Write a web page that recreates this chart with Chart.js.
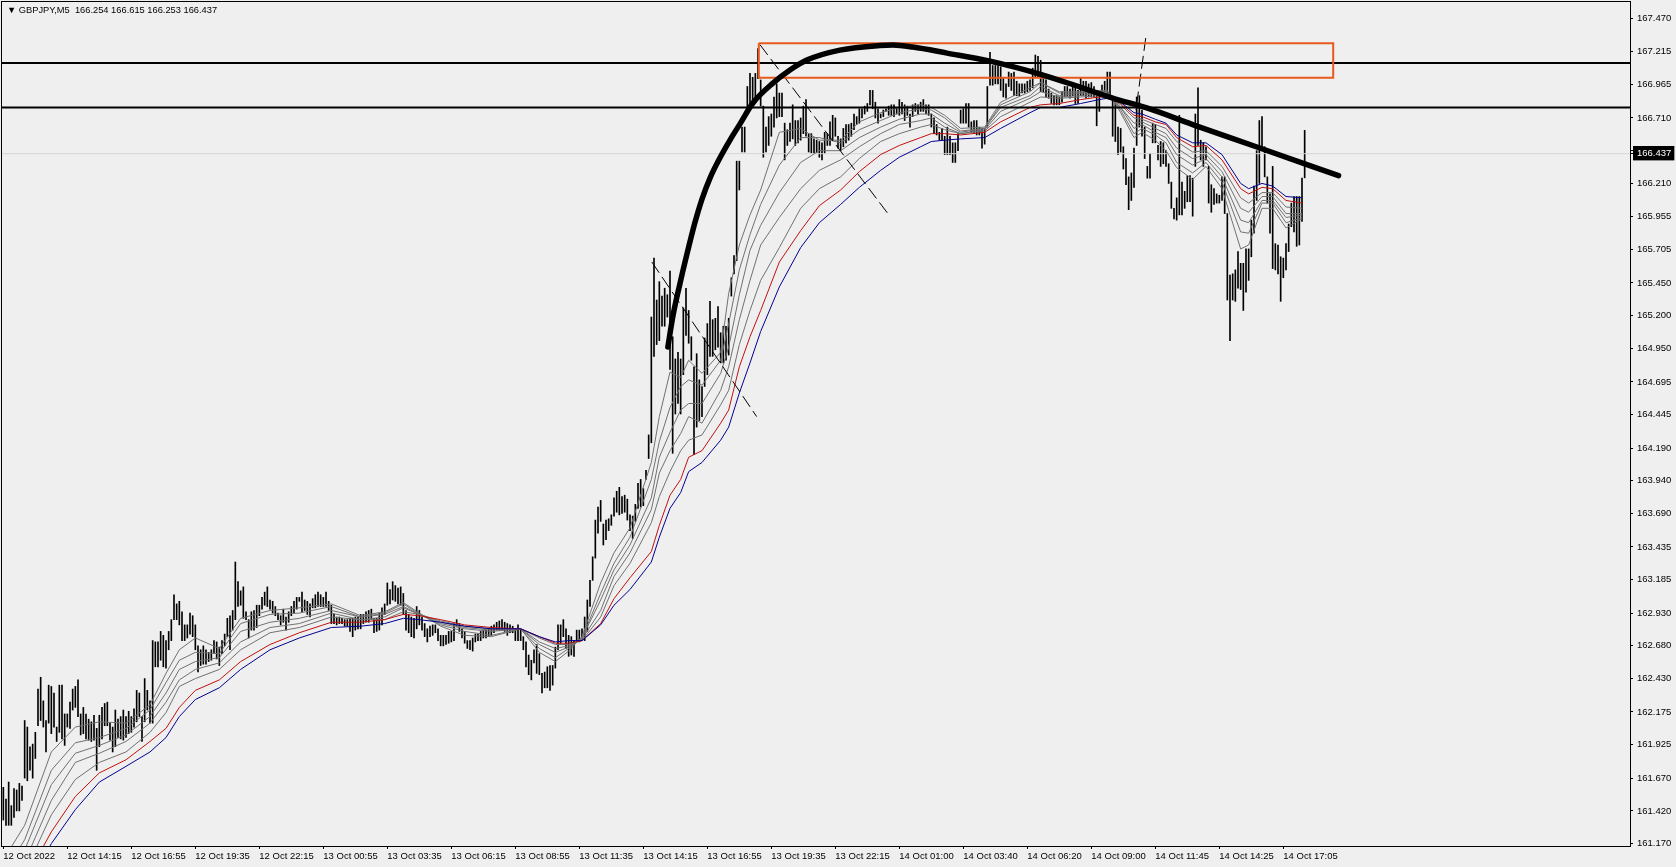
<!DOCTYPE html>
<html>
<head>
<meta charset="utf-8">
<title>GBPJPY,M5</title>
<script src="https://cdn.jsdelivr.net/npm/chart.js@4/dist/chart.umd.min.js"></script>
<style>
  html,body{margin:0;padding:0;background:#efefef;overflow:hidden}
  #hdr{position:absolute;left:7px;top:5px;font:9.3px "Liberation Sans",sans-serif;color:#000;white-space:pre}
  canvas{display:block}
</style>
</head>
<body>
<canvas id="chart" width="1676" height="867"></canvas>
<div id="hdr">▼ GBPJPY,M5  166.254 166.615 166.253 166.437</div>
<script>
// bar highs / lows, one entry per drawn bar
const highs = [
161.60,161.51,161.64,161.46,161.59,161.58,161.63,161.61,162.11,162.06,
161.91,161.93,162.02,162.35,162.44,162.26,162.11,162.38,162.37,162.32,
162.06,162.38,162.38,162.16,162.16,162.25,162.35,162.37,162.42,162.16,
162.21,162.16,162.12,162.10,162.15,162.05,162.15,162.21,162.24,162.25,
162.09,162.06,162.19,162.12,162.14,162.19,162.14,162.18,162.14,162.20,
162.34,162.32,162.14,162.43,162.34,162.26,162.72,162.71,162.71,162.79,
162.76,162.72,162.79,162.88,163.07,163.00,163.02,162.94,162.84,162.84,
162.93,162.91,162.84,162.68,162.65,162.68,162.65,162.63,162.65,162.72,
162.71,162.67,162.72,162.77,162.89,162.91,162.95,163.32,163.17,163.10,
163.13,162.94,162.88,162.94,162.95,162.99,162.99,163.05,163.09,163.13,
163.03,163.02,162.98,162.93,162.91,162.96,162.90,162.94,162.98,163.02,
163.05,163.05,163.09,163.03,163.02,163.00,163.04,163.07,163.09,163.07,
163.05,163.09,163.02,162.99,162.92,162.90,162.90,162.89,162.88,162.88,
162.89,162.89,162.90,162.90,162.92,162.92,162.94,162.95,162.96,162.89,
162.89,162.93,162.97,163.00,163.16,163.11,163.17,163.14,163.12,163.13,
163.08,162.95,162.92,162.90,162.89,162.98,162.95,162.90,162.85,162.81,
162.83,162.84,162.84,162.81,162.76,162.76,162.76,162.79,162.79,162.85,
162.88,162.85,162.81,162.79,162.72,162.72,162.74,162.77,162.77,162.79,
162.80,162.80,162.81,162.83,162.84,162.86,162.87,162.88,162.86,162.85,
162.84,162.83,162.81,162.84,162.81,162.75,162.71,162.61,162.57,162.65,
162.69,162.62,162.47,162.48,162.52,162.53,162.53,162.67,162.84,162.84,
162.88,162.81,162.76,162.75,162.72,162.80,162.80,162.81,162.90,163.03,
163.18,163.36,163.64,163.74,163.79,163.61,163.64,163.65,163.68,163.81,
163.86,163.89,163.82,163.83,163.80,163.68,163.67,163.76,163.92,163.95,
163.88,164.02,164.29,165.19,165.64,165.32,165.46,165.35,165.41,165.36,
165.54,165.04,164.87,164.92,164.87,165.26,165.41,165.24,165.04,164.81,
164.91,164.71,164.66,165.03,165.14,165.31,165.17,165.18,165.27,165.07,
165.12,165.12,165.18,165.49,165.66,166.38,166.38,166.64,166.64,166.95,
167.05,167.02,167.05,167.24,167.00,166.80,166.64,166.72,166.74,166.87,
166.97,166.90,166.90,166.67,166.62,166.67,166.81,166.69,166.69,166.71,
166.80,166.85,166.59,166.59,166.55,166.54,166.53,166.52,166.60,166.59,
166.68,166.73,166.71,166.57,166.55,166.63,166.66,166.66,166.67,166.74,
166.72,166.78,166.78,166.80,166.82,166.92,166.92,166.83,166.78,166.74,
166.77,166.78,166.80,166.81,166.81,166.78,166.85,166.83,166.81,166.80,
166.74,166.81,166.82,166.81,166.83,166.85,166.81,166.81,166.74,166.71,
166.66,166.60,166.63,166.57,166.64,166.57,166.52,166.52,166.59,166.77,
166.78,166.82,166.82,166.68,166.69,166.69,166.64,166.63,166.63,166.95,
167.21,167.11,167.11,167.11,167.10,167.01,166.97,167.06,167.05,167.06,
166.99,166.97,166.97,166.97,166.99,167.00,167.09,167.19,167.18,167.15,
167.01,167.00,166.93,166.90,166.88,166.88,166.87,166.91,166.95,166.95,
166.93,166.96,166.97,166.92,167.02,166.99,166.99,166.97,166.98,166.95,
166.92,166.88,166.96,166.99,167.06,167.06,166.87,166.85,166.64,166.63,
166.49,166.40,166.26,166.29,166.48,166.87,166.88,166.77,166.64,166.34,
166.44,166.67,166.66,166.50,166.53,166.52,166.46,166.36,166.22,166.02,
166.10,166.73,166.22,166.15,166.27,166.27,166.25,166.74,166.94,166.54,
166.52,166.49,166.34,166.20,166.17,166.13,166.12,166.26,166.26,165.98,
165.51,165.52,165.55,165.69,165.60,165.60,165.71,165.71,165.93,166.19,
166.46,166.69,166.72,166.49,166.26,166.13,166.34,165.75,165.74,165.65,
165.64,165.75,165.90,166.06,166.11,166.11,166.11,166.25,166.615
];
const lows = [
161.35,161.31,161.31,161.31,161.37,161.42,161.42,161.50,161.67,161.65,
161.73,161.67,161.82,162.07,162.11,162.06,161.87,162.09,162.01,162.06,
161.95,162.02,161.97,161.92,162.06,162.05,162.19,162.21,162.14,162.00,
162.01,161.97,161.96,161.95,161.96,161.73,161.91,161.97,162.07,162.07,
161.96,161.87,161.91,161.98,161.97,161.96,161.98,162.01,162.02,162.06,
162.10,162.14,161.95,162.10,162.19,162.09,162.09,162.52,162.52,162.57,
162.52,162.51,162.65,162.72,162.88,162.88,162.84,162.72,162.72,162.74,
162.77,162.75,162.65,162.48,162.53,162.54,162.54,162.56,162.57,162.62,
162.58,162.53,162.62,162.68,162.75,162.65,162.80,162.88,162.98,162.99,
162.89,162.88,162.74,162.80,162.80,162.82,162.91,162.96,162.99,162.98,
162.96,162.93,162.91,162.88,162.84,162.86,162.80,162.86,162.91,162.93,
162.96,163.02,162.94,162.95,162.92,162.90,162.97,162.97,162.98,162.98,
162.98,162.98,162.95,162.85,162.85,162.84,162.85,162.85,162.83,162.83,
162.79,162.75,162.80,162.81,162.81,162.85,162.86,162.86,162.88,162.78,
162.79,162.80,162.84,162.92,162.99,163.00,163.03,163.02,163.00,162.99,
162.92,162.80,162.78,162.75,162.74,162.81,162.84,162.80,162.75,162.71,
162.75,162.76,162.78,162.72,162.68,162.68,162.69,162.70,162.71,162.72,
162.83,162.79,162.74,162.70,162.66,162.65,162.64,162.71,162.72,162.72,
162.74,162.74,162.75,162.76,162.78,162.80,162.80,162.80,162.79,162.76,
162.78,162.78,162.72,162.72,162.72,162.65,162.52,162.46,162.42,162.55,
162.47,162.46,162.32,162.36,162.36,162.34,162.38,162.51,162.65,162.70,
162.75,162.66,162.60,162.61,162.60,162.71,162.71,162.72,162.72,162.79,
162.98,163.18,163.35,163.54,163.63,163.45,163.49,163.56,163.60,163.67,
163.70,163.68,163.69,163.70,163.64,163.56,163.50,163.63,163.73,163.74,
163.75,163.95,164.11,164.23,164.89,164.98,165.01,165.12,165.12,165.19,
164.79,164.15,164.45,164.53,164.45,164.75,165.05,164.99,164.86,164.14,
164.35,164.40,164.43,164.66,164.75,164.89,164.89,164.94,164.96,164.84,
164.84,164.86,164.90,165.35,165.52,165.62,166.16,166.45,166.45,166.74,
166.80,166.81,166.86,167.01,166.80,166.41,166.45,166.50,166.57,166.64,
166.71,166.72,166.72,166.39,166.50,166.53,166.55,166.50,166.52,166.54,
166.59,166.57,166.45,166.44,166.44,166.44,166.41,166.39,166.44,166.50,
166.50,166.54,166.57,166.48,166.46,166.49,166.52,166.54,166.57,166.62,
166.66,166.67,166.71,166.74,166.76,166.81,166.78,166.71,166.67,166.71,
166.72,166.76,166.73,166.73,166.72,166.74,166.73,166.74,166.69,166.73,
166.64,166.72,166.76,166.74,166.76,166.76,166.74,166.73,166.64,166.59,
166.58,166.54,166.54,166.43,166.43,166.43,166.37,166.37,166.46,166.67,
166.67,166.67,166.64,166.60,166.59,166.58,166.58,166.48,166.51,166.64,
166.96,166.96,166.97,166.97,166.92,166.87,166.86,166.95,166.92,166.88,
166.88,166.88,166.90,166.90,166.91,166.92,166.94,167.02,167.02,166.91,
166.91,166.87,166.86,166.82,166.81,166.81,166.81,166.83,166.87,166.88,
166.86,166.88,166.82,166.82,166.88,166.88,166.86,166.87,166.87,166.87,
166.65,166.76,166.88,166.91,166.90,166.87,166.57,166.53,166.43,166.45,
166.32,166.20,166.01,166.08,166.18,166.50,166.64,166.57,166.40,166.25,
166.25,166.52,166.52,166.39,166.34,166.36,166.34,166.21,166.02,165.94,
165.93,165.97,165.97,166.02,166.07,166.07,165.96,166.34,166.50,166.39,
166.34,166.39,166.06,165.99,166.05,166.06,166.06,166.08,165.98,165.32,
165.01,165.32,165.31,165.41,165.40,165.24,165.38,165.47,165.65,165.83,
166.08,166.21,166.48,166.26,166.06,165.83,165.56,165.55,165.52,165.31,
165.49,165.55,165.69,165.88,165.84,165.73,165.74,165.92,166.253
];

// moving average ribbon, read at these bars
const ribbonAt = [1,8,18,27,36,46,55,61,66,72,81,89,100,111,123,134,143,150,156,164,173,183,194,201,207,212,217,224,229,235,243,246,250,254,257,262,269,272,276,280,284,291,299,306,314,321,329,336,344,348,353,359,368,374,385,389,396,404,411,414,419,424,427,432,436,440,446,451,457,464,467,472,476,481,487];
const maBlue = [160.28,160.80,161.17,161.43,161.64,161.76,161.87,161.98,162.14,162.27,162.36,162.50,162.65,162.74,162.82,162.83,162.85,162.89,162.88,162.86,162.83,162.81,162.81,162.75,162.71,162.72,162.72,162.84,162.99,163.11,163.32,163.51,163.73,163.85,164.01,164.08,164.25,164.35,164.61,164.84,165.08,165.42,165.72,165.91,166.05,166.18,166.31,166.41,166.49,166.53,166.54,166.55,166.56,166.63,166.75,166.79,166.79,166.82,166.85,166.86,166.83,166.75,166.74,166.70,166.67,166.58,166.52,166.52,166.43,166.21,166.17,166.21,166.19,166.11,166.10];
const maRed = [160.51,160.89,161.26,161.53,161.71,161.81,161.95,162.05,162.21,162.34,162.42,162.56,162.69,162.78,162.86,162.86,162.88,162.92,162.91,162.88,162.84,162.82,162.81,162.75,162.70,162.70,162.72,162.85,163.04,163.20,163.40,163.60,163.83,163.95,164.12,164.17,164.38,164.48,164.81,165.04,165.24,165.61,165.85,166.04,166.16,166.30,166.43,166.50,166.56,166.59,166.59,166.58,166.60,166.68,166.79,166.81,166.82,166.85,166.87,166.87,166.82,166.73,166.72,166.68,166.66,166.56,166.49,166.50,166.39,166.17,166.13,166.18,166.17,166.08,166.06];
const maGrey1 = [160.66,160.95,161.39,161.66,161.79,161.87,162.02,162.17,162.37,162.43,162.50,162.65,162.78,162.82,162.90,162.88,162.88,162.94,162.92,162.87,162.83,162.81,162.81,162.74,162.69,162.69,162.72,162.90,163.14,163.31,163.62,163.82,164.01,164.17,164.25,164.29,164.52,164.63,164.98,165.24,165.47,165.72,166.02,166.17,166.26,166.40,166.53,166.59,166.64,166.66,166.62,166.59,166.61,166.72,166.83,166.87,166.86,166.87,166.88,166.87,166.81,166.71,166.70,166.66,166.63,166.53,166.45,166.46,166.34,166.10,166.06,166.14,166.14,166.03,166.02];
const maGrey2 = [160.74,161.03,161.50,161.79,161.86,161.95,162.09,162.25,162.42,162.50,162.55,162.71,162.82,162.85,162.93,162.88,162.90,162.97,162.92,162.86,162.82,162.80,162.81,162.71,162.66,162.68,162.73,162.95,163.21,163.39,163.72,164.00,164.17,164.30,164.43,164.38,164.63,164.81,165.17,165.47,165.74,165.95,166.17,166.31,166.39,166.49,166.59,166.66,166.69,166.71,166.64,166.59,166.62,166.76,166.86,166.91,166.87,166.88,166.90,166.88,166.79,166.67,166.68,166.63,166.59,166.48,166.40,166.43,166.30,166.02,165.99,166.11,166.11,165.98,165.98];
const maGrey3 = [160.89,161.12,161.62,161.86,161.92,162.00,162.14,162.32,162.50,162.56,162.59,162.79,162.86,162.89,162.95,162.90,162.92,162.98,162.92,162.85,162.81,162.79,162.81,162.69,162.63,162.67,162.74,163.03,163.26,163.45,163.81,164.12,164.31,164.48,164.53,164.53,164.76,164.96,165.36,165.70,165.89,166.14,166.37,166.46,166.46,166.56,166.64,166.70,166.74,166.74,166.67,166.60,166.63,166.79,166.88,166.95,166.88,166.90,166.90,166.90,166.79,166.63,166.66,166.60,166.56,166.43,166.35,166.40,166.26,165.93,165.91,166.08,166.08,165.95,165.97];
const maGrey4 = [160.97,161.20,161.73,161.94,161.98,162.05,162.19,162.40,162.57,162.63,162.62,162.85,162.92,162.93,162.98,162.90,162.93,163.00,162.92,162.84,162.79,162.76,162.81,162.66,162.59,162.66,162.74,163.08,163.31,163.51,163.95,164.24,164.50,164.66,164.71,164.67,164.86,165.14,165.55,165.82,166.05,166.35,166.56,166.56,166.52,166.62,166.69,166.75,166.78,166.77,166.71,166.61,166.63,166.81,166.91,166.98,166.90,166.90,166.91,166.91,166.77,166.59,166.63,166.58,166.52,166.37,166.29,166.37,166.22,165.84,165.83,166.06,166.06,165.91,165.95];
const maGrey5 = [161.08,161.31,161.87,162.06,162.10,162.09,162.23,162.47,162.65,162.74,162.66,162.89,162.95,162.97,163.00,162.91,162.94,163.01,162.93,162.83,162.76,162.75,162.81,162.63,162.56,162.64,162.75,163.16,163.39,163.58,164.08,164.43,164.77,164.73,164.86,164.76,164.92,165.37,165.74,165.97,166.16,166.60,166.63,166.54,166.54,166.68,166.75,166.79,166.81,166.79,166.73,166.63,166.64,166.83,166.94,166.98,166.91,166.91,166.92,166.92,166.75,166.56,166.60,166.54,166.46,166.33,166.24,166.34,166.17,165.71,165.74,166.02,166.02,165.87,165.94];

// drawn objects
const levels = [167.13,166.79];
const lastPrice = 166.437;
const boxAt = [283.3,498.7,498.7,283.3,283.3];
const boxPrices = [167.28,167.28,167.017,167.017,167.28];
const arcAt = [249.2,251.1,253.7,256,259.4,262,265,268.7,272.5,276.2,281.1,288.6,295,301.3,313.7,328.7,333.6,341,353.9,370,388.7,403.7,416,428.8,447.6,470.1,500.7];
const arcPrices = [164.961,165.198,165.442,165.641,165.915,166.091,166.251,166.404,166.541,166.663,166.824,166.976,167.076,167.152,167.228,167.263,167.266,167.251,167.205,167.144,167.045,166.946,166.862,166.786,166.648,166.488,166.269];
const dashA = [[243.2,165.61],[282.5,164.43]];
const dashB = [[283.7,167.27],[331.7,165.98]];
const dashC = [[428.4,167.32],[424.7,166.77]];

// axes
const xLabels = ["12 Oct 2022","12 Oct 14:15","12 Oct 16:55","12 Oct 19:35","12 Oct 22:15","13 Oct 00:55","13 Oct 03:35","13 Oct 06:15","13 Oct 08:55","13 Oct 11:35","13 Oct 14:15","13 Oct 16:55","13 Oct 19:35","13 Oct 22:15","14 Oct 01:00","14 Oct 03:40","14 Oct 06:20","14 Oct 09:00","14 Oct 11:45","14 Oct 14:25","14 Oct 17:05"];
const yTicks = [167.47,167.215,166.965,166.71,166.46,166.21,165.955,165.705,165.45,165.2,164.95,164.695,164.445,164.19,163.94,163.69,163.435,163.185,162.93,162.68,162.43,162.175,161.925,161.67,161.42,161.17];

const FONT = {family:'"Liberation Sans",sans-serif', size:9.5};

function pts(xs,ys){ return xs.map((x,i)=>({x:x,y:ys[i]})); }
function line(data,color,width,order,extra){
  return Object.assign({type:"line",data:data,borderColor:color,borderWidth:width,pointRadius:0,tension:0,order:order},extra||{});
}

const ribbon = [
  [maGrey5,"#707070"],[maGrey4,"#707070"],[maGrey3,"#707070"],[maGrey2,"#707070"],[maGrey1,"#707070"],
  [maRed,"#c01010"],[maBlue,"#000090"]
].map(([vals,col],i)=>line(pts(ribbonAt,vals),col,1,6-i*0.1));

const frame = {
  id:"frame",
  afterDraw(c){
    const a=c.chartArea, g=c.ctx;
    g.save();
    g.strokeStyle="#000";
    g.lineWidth=1;
    g.strokeRect(a.left-0.5,a.top-0.5,a.right-a.left+1,a.bottom-a.top+1);
    g.restore();
  }
};

new Chart(document.getElementById("chart"),{
  type:"bar",
  plugins:[frame],
  data:{
    datasets:[
      {type:"bar",data:highs.map((h,i)=>({x:i,y:[lows[i],h]})),backgroundColor:"#000",barThickness:1,grouped:false,order:9},
      ...ribbon,
      line(pts([-0.5,610],[lastPrice,lastPrice]),"#d6d6d6",1,8),
      line(pts([-0.5,610],[levels[0],levels[0]]),"#000",2,3),
      line(pts([-0.5,610],[levels[1],levels[1]]),"#000",2,3),
      line(dashA.map(p=>({x:p[0],y:p[1]})),"#000",1,2,{borderDash:[13,5]}),
      line(dashB.map(p=>({x:p[0],y:p[1]})),"#000",1,2,{borderDash:[13,5]}),
      line(dashC.map(p=>({x:p[0],y:p[1]})),"#000",1,2,{borderDash:[13,5]}),
      line(pts(boxAt,boxPrices),"#e8591c",2,1.5),
      line(pts(arcAt,arcPrices),"#000",5.5,1,{cubicInterpolationMode:"monotone",borderCapStyle:"round"})
    ]
  },
  options:{
    responsive:false,
    animation:false,
    devicePixelRatio:1,
    layout:{padding:{left:2,top:2,right:0,bottom:0}},
    plugins:{legend:{display:false},title:{display:false},tooltip:{enabled:false}},
    scales:{
      x:{
        type:"linear",min:-0.5,max:610,offset:false,
        afterFit(s){s.height=21;s.paddingLeft=0;s.paddingRight=0;},
        afterBuildTicks(s){s.ticks=xLabels.map((l,i)=>({value:i*24}));},
        grid:{drawOnChartArea:false,offset:false,tickLength:3,tickColor:"#000"},
        border:{color:"#000"},
        ticks:{autoSkip:false,maxRotation:0,minRotation:0,align:"start",color:"#000",font:FONT,padding:2,callback:(v,i)=>xLabels[i]}
      },
      y:{
        position:"right",min:161.152,max:167.595,beginAtZero:false,
        afterFit(s){s.width=46;s.paddingTop=0;s.paddingBottom=0;},
        afterBuildTicks(s){s.ticks=yTicks.concat([lastPrice]).map(v=>({value:v}));},
        grid:{drawOnChartArea:false,tickLength:3,tickColor:"#000"},
        border:{color:"#000"},
        ticks:{
          autoSkip:false,font:FONT,padding:4,crossAlign:"near",
          color:c=>c.tick&&c.tick.value===lastPrice?"#fff":"#000",
          showLabelBackdrop:true,
          backdropColor:c=>c.tick&&c.tick.value===lastPrice?"#000":"rgba(0,0,0,0)",
          backdropPadding:{left:4,right:3,top:2,bottom:1},
          callback:v=>v.toFixed(3)
        }
      }
    }
  }
});
</script>
</body>
</html>
